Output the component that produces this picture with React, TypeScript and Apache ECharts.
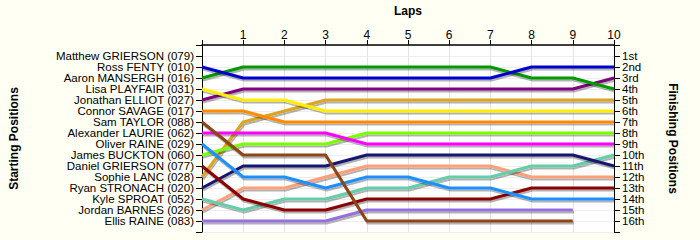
import React, { useEffect, useRef } from "react";
import * as echarts from "echarts";

const laps = [0, 1, 2, 3, 4, 5, 6, 7, 8, 9, 10];
const drivers = [
  "Matthew GRIERSON (079)",
  "Ross FENTY (010)",
  "Aaron MANSERGH (016)",
  "Lisa PLAYFAIR (031)",
  "Jonathan ELLIOT (027)",
  "Connor SAVAGE (017)",
  "Sam TAYLOR (088)",
  "Alexander LAURIE (062)",
  "Oliver RAINE (029)",
  "James BUCKTON (060)",
  "Daniel GRIERSON (077)",
  "Sophie LANC (028)",
  "Ryan STRONACH (020)",
  "Kyle SPROAT (052)",
  "Jordan BARNES (026)",
  "Ellis RAINE (083)",
];
const finishLabels = ["1st", "2nd", "3rd", "4th", "5th", "6th", "7th", "8th", "9th", "10th", "11th", "12th", "13th", "14th", "15th", "16th"];
const colors = [
  "#FF0000", "#0000CD", "#009900", "#FFEE00", "#800080", "#FF8C00", "#8B4513", "#FF00FF",
  "#1E90FF", "#7CFC00", "#8B0000", "#DAA520", "#191970", "#66CDAA", "#FFA07A", "#9370DB",
];
// positions per lap (lap 0 = starting position)
const positions: (number | null)[][] = [
  [1, 1, 1, 1, 1, 1, 1, 1, 1, 1, 1],
  [2, 3, 3, 3, 3, 3, 3, 3, 2, 2, 2],
  [3, 2, 2, 2, 2, 2, 2, 2, 3, 3, 4],
  [4, 5, 5, 6, 6, 6, 6, 6, 6, 6, 6],
  [5, 4, 4, 4, 4, 4, 4, 4, 4, 4, 3],
  [6, 6, 7, 7, 7, 7, 7, 7, 7, 7, 7],
  [7, 10, 10, 10, 16, 16, 16, 16, 16, 16, null],
  [8, 8, 8, 8, 9, 9, 9, 9, 9, 9, 9],
  [9, 12, 12, 13, 12, 12, 13, 13, 14, 14, 14],
  [10, 9, 9, 9, 8, 8, 8, 8, 8, 8, 8],
  [11, 14, 15, 15, 14, 14, 14, 14, 13, 13, 13],
  [12, 7, 6, 5, 5, 5, 5, 5, 5, 5, 5],
  [13, 11, 11, 11, 10, 10, 10, 10, 10, 10, 11],
  [14, 15, 14, 14, 13, 13, 12, 12, 11, 11, 10],
  [15, 13, 13, 12, 11, 11, 11, 11, 12, 12, 12],
  [16, 16, 16, 16, 15, 15, 15, 15, 15, 15, null],
];

export default function App() {
  const ref = useRef<HTMLDivElement>(null);
  useEffect(() => {
    document.body.style.margin = "0";
    const chart = echarts.init(ref.current!, null, { renderer: "svg" });
    const font = "Liberation Sans, Arial, sans-serif";
    const labelStyle = { color: "#000", fontSize: 11.5, lineHeight: 11, fontFamily: font };
    const nameStyle = { color: "#000", fontSize: 12, fontWeight: "bold" as const, fontFamily: font };
    const yBase = {
      type: "value" as const,
      min: 0,
      max: 17,
      interval: 1,
      inverse: true,
      axisLine: { show: true, lineStyle: { color: "#000", width: 1 } },
      axisTick: { show: true, length: 6, lineStyle: { color: "#000" } },
      nameLocation: "middle" as const,
      nameTextStyle: nameStyle,
    };
    chart.setOption({
      animation: false,
      backgroundColor: "#FFFFF4",
      grid: { left: 202, right: 86, top: 42, bottom: 8, show: true, backgroundColor: "#FFFFFF", borderWidth: 0 },
      xAxis: {
        type: "value",
        position: "top",
        min: 0,
        max: 10,
        interval: 1,
        name: "Laps",
        nameLocation: "middle",
        nameGap: 28,
        nameTextStyle: nameStyle,
        axisLine: { show: true, onZero: false, lineStyle: { color: "#000", width: 1.5 } },
        axisTick: { show: true, length: 5, lineStyle: { color: "#000" } },
        axisLabel: { color: "#000", fontSize: 12, fontFamily: font, margin: 4, formatter: (v: number) => (v === 0 ? "" : String(v)) },
        splitLine: { show: true, lineStyle: { color: "#E4E4E4", width: 1 } },
      },
      yAxis: [
        {
          ...yBase,
          position: "left",
          name: "Starting Positions",
          nameGap: 182,
          nameRotate: 90,
          axisLabel: {
            ...labelStyle,
            margin: 8,
            formatter: (v: number) => (v >= 1 && v <= 16 ? drivers[v - 1] : ""),
          },
          splitLine: { show: true, lineStyle: { color: "#EEEEEE", width: 1 } },
        },
        {
          ...yBase,
          position: "right",
          name: "Finishing Positions",
          nameGap: 53,
          nameRotate: -90,
          axisLabel: {
            ...labelStyle,
            margin: 8,
            formatter: (v: number) => (v >= 1 && v <= 16 ? finishLabels[v - 1] : ""),
          },
          splitLine: { show: false },
        },
      ],
      series: drivers.map((d, i) => ({
        type: "line",
        name: d,
        yAxisIndex: 0,
        showSymbol: false,
        symbol: "none",
        connectNulls: false,
        data: laps.map((l, j) => [l, positions[i][j]]),
        lineStyle: {
          color: colors[i],
          width: 3,
          shadowColor: "rgba(0,0,0,0.3)",
          shadowOffsetX: 1,
          shadowOffsetY: 2,
          shadowBlur: 1,
        },
        itemStyle: { color: colors[i] },
        z: 2 + (drivers.length - i),
      })),
    });
    return () => chart.dispose();
  }, []);
  return <div ref={ref} style={{ width: 700, height: 240 }} />;
}
